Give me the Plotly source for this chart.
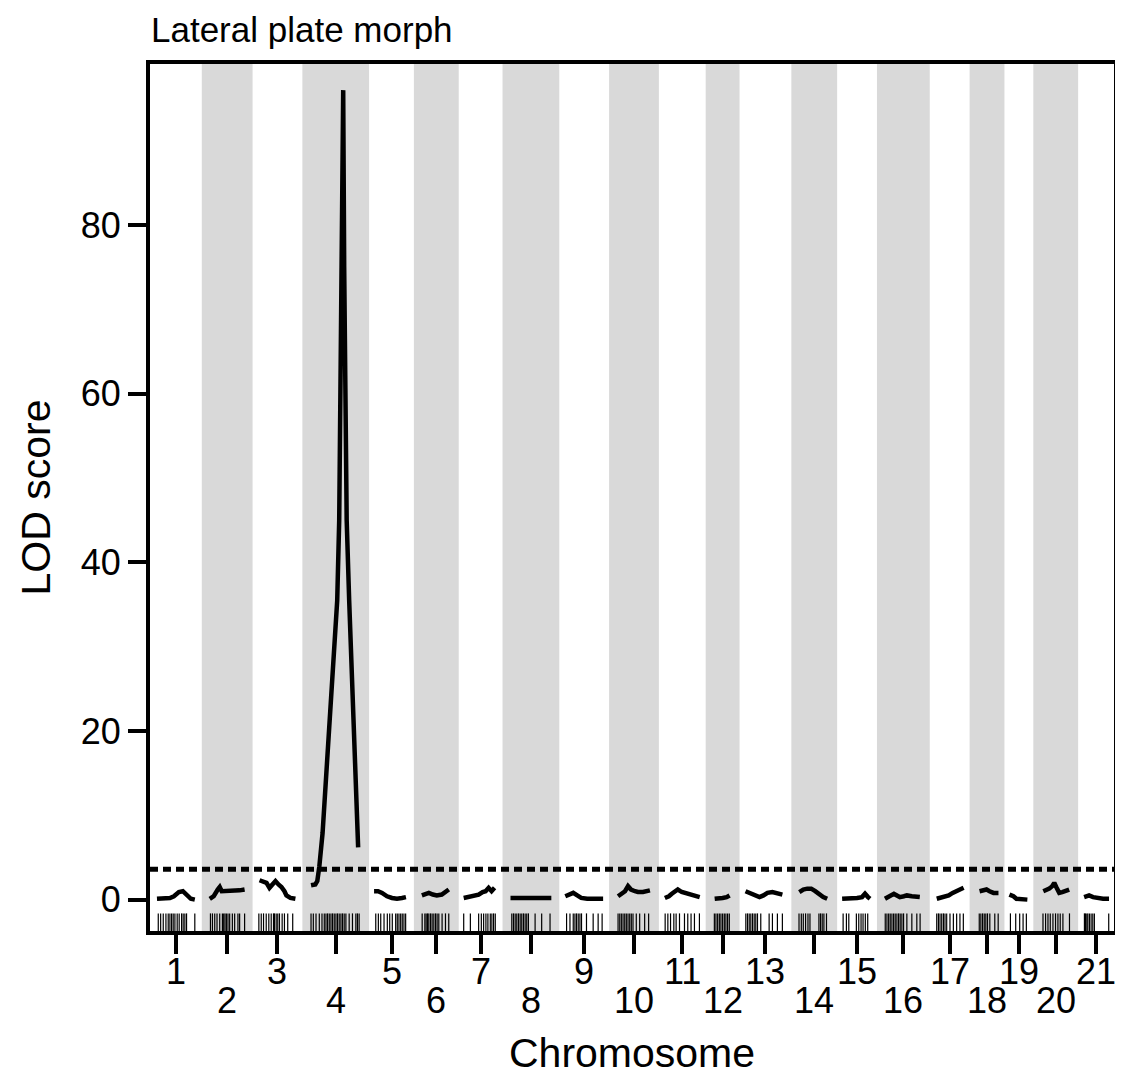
import plotly.graph_objects as go

# ---------------- data ----------------
chrom_names = [str(i) for i in range(1, 22)]
chrom_lengths = [52, 51, 50, 67, 45, 45, 44, 57, 50, 50, 47, 34, 52, 46, 40, 53, 40, 35, 29, 45, 36]

# LOD profiles: (position within chromosome, LOD)
lod_pos = {
    "1": [7, 12, 20, 24, 29, 33, 37, 41, 45],
    "2": [8, 12, 16, 18, 20, 25, 32, 38, 43],
    "3": [7, 11, 14, 17, 20, 23, 26, 29, 32, 34, 38, 43],
    "4": [8.7, 13, 15, 17, 20.3, 23.7, 27, 30.3, 33, 35, 37, 38.5, 40, 41, 42, 43, 44.5, 47, 50.3, 53.7, 56],
    "5": [5, 9, 13, 18, 23, 28, 33, 37],
    "6": [8, 12, 15, 19, 23, 28, 32, 35],
    "7": [5, 10, 15, 20, 24, 27, 30, 33, 36],
    "8": [8, 14, 20, 26, 32, 38, 44, 49],
    "9": [6, 10, 14, 18, 22, 28, 35, 44],
    "10": [9, 13, 16, 19, 22, 26, 29, 34, 38, 41],
    "11": [6, 10, 13, 17, 19, 23, 26, 30, 35, 41],
    "12": [9, 13, 17, 21, 24],
    "13": [6, 10, 13, 16, 20, 24, 28, 33, 38, 43],
    "14": [8, 12, 16, 20, 24, 28, 32, 36],
    "15": [5, 10, 15, 20, 25, 28, 31, 33],
    "16": [8, 12, 17, 20, 23, 27, 30, 35, 40, 43],
    "17": [7, 11, 15, 19, 23, 27, 31, 34],
    "18": [10, 14, 17, 20, 24, 29],
    "19": [5, 9, 12, 17, 23],
    "20": [10, 13, 16, 19, 21, 23, 26, 29, 33, 36],
    "21": [6, 9, 11, 15, 18, 25, 31],
}
lod_val = {
    "1": [0.1, 0.1, 0.2, 0.4, 0.9, 1.0, 0.5, 0.1, 0.0],
    "2": [0.1, 0.4, 1.2, 1.5, 1.0, 1.0, 1.1, 1.1, 1.2],
    "3": [2.3, 2.1, 2.0, 1.4, 1.8, 2.2, 1.8, 1.5, 1.0, 0.5, 0.2, 0.1],
    "4": [1.7, 1.8, 2.2, 3.9, 7.9, 14.2, 20.0, 24.8, 30.0, 35.5, 45.0, 60.0, 80.0, 96.0, 75.0, 56.0, 45.0, 35.5, 24.8, 14.2, 6.2],
    "5": [1.0, 1.0, 0.8, 0.4, 0.2, 0.1, 0.2, 0.3],
    "6": [0.5, 0.7, 0.8, 0.6, 0.5, 0.6, 0.9, 1.2],
    "7": [0.2, 0.3, 0.4, 0.6, 0.9, 1.0, 1.4, 1.0, 1.4],
    "8": [0.2, 0.2, 0.1, 0.2, 0.2, 0.2, 0.2, 0.2],
    "9": [0.4, 0.6, 0.8, 0.5, 0.2, 0.1, 0.1, 0.1],
    "10": [0.4, 0.8, 1.0, 1.6, 1.2, 1.0, 0.9, 0.9, 1.0, 1.1],
    "11": [0.2, 0.4, 0.7, 1.0, 1.2, 0.9, 0.8, 0.6, 0.5, 0.3],
    "12": [0.1, 0.1, 0.2, 0.3, 0.5],
    "13": [1.0, 0.8, 0.6, 0.4, 0.3, 0.5, 0.8, 0.9, 0.8, 0.6],
    "14": [0.9, 1.2, 1.3, 1.3, 1.0, 0.6, 0.3, 0.1],
    "15": [0.1, 0.1, 0.1, 0.2, 0.3, 0.7, 0.3, 0.1],
    "16": [0.1, 0.4, 0.7, 0.5, 0.3, 0.4, 0.5, 0.4, 0.3, 0.3],
    "17": [0.1, 0.2, 0.3, 0.5, 0.8, 1.0, 1.2, 1.4],
    "18": [1.0, 1.1, 1.2, 1.0, 0.8, 0.8],
    "19": [0.6, 0.4, 0.1, 0.0, 0.0],
    "20": [1.0, 1.1, 1.3, 1.6, 2.0, 1.5, 0.8, 0.9, 1.1, 1.2],
    "21": [0.3, 0.4, 0.5, 0.3, 0.2, 0.1, 0.1],
}

# marker positions (rug)
markers = {
    "1": [8.3, 10.7, 13.3, 16, 18.3, 20, 21.7, 23.3, 25, 27.3, 29.3, 31.7, 33.3, 35, 36.7, 45],
    "2": [8.7, 10.7, 13, 15.3, 18, 20.7, 22, 23.3, 24.7, 26.3, 28, 30.7, 33, 36.3, 38, 43],
    "3": [6.3, 8.7, 11, 13.7, 16.3, 18.7, 21, 22, 23.7, 25.3, 27, 29.7, 32, 35.3, 40.3],
    "4": [8.7, 11, 13.7, 17, 19.7, 22, 23.7, 25.3, 27, 28.7, 30.3, 32, 33.7, 35.3, 37, 38.7, 40.3, 42, 43.7, 47, 50.3, 53.7, 55.3, 57],
    "5": [6.7, 9.3, 11.7, 15, 18.3, 20.7, 23.3, 26.7, 28.3, 30, 31.7, 33.3, 35, 36.7],
    "6": [8.3, 11, 12.3, 13.7, 15, 16.7, 18.3, 20, 21.7, 23.3, 25, 28.3, 31.7, 35],
    "7": [5, 11.7, 20, 22.7, 25, 27.3, 29.3, 31.7, 33.3, 35, 36.7],
    "8": [9.3, 11, 12.7, 14.3, 16, 17.7, 19.3, 21, 22.7, 24.3, 26, 32.7, 39.3, 47.7],
    "9": [7.3, 10.7, 14, 15.7, 17.3, 19, 20.7, 22.3, 27.3, 34, 39, 43],
    "10": [9, 10.7, 12.3, 14, 15.7, 17.3, 19, 20.7, 22.3, 24, 27.3, 30.7, 35.7, 39.7],
    "11": [6.3, 9, 11.7, 15, 17.3, 20.7, 25.7, 29, 32.3, 35.7, 40.7],
    "12": [8.7, 10.3, 12, 13.7, 15.3, 17, 18.7, 20.3, 22, 23.7],
    "13": [6.3, 8, 9.7, 11.3, 13, 14.7, 16.3, 18, 21.3, 29.7, 33, 38, 43],
    "14": [7.7, 10, 12, 14.3, 16.7, 18.7, 27.7, 29.3, 31, 32.7, 35.3],
    "15": [6, 9.3, 11.7, 19.3, 21.7, 24, 26, 28.3, 30.7],
    "16": [8.3, 10, 11.7, 13.3, 15, 16.7, 18.3, 20, 21.7, 23.3, 25, 26.7, 30, 35, 40, 43.3],
    "17": [7, 8.7, 10.3, 12, 13.7, 15.3, 17, 20.3, 23.7, 27, 30.3, 33.7],
    "18": [9.7, 11.3, 13, 14.7, 16.3, 18, 20.3, 25.3, 28.7],
    "19": [6, 11.3, 15.3, 18.7, 22],
    "20": [9.7, 12.3, 14.7, 17, 19.7, 22.3, 24.7, 27, 29.7, 36.3],
    "21": [6.3, 7.3, 8.7, 9.7, 11.3, 13, 14.7, 16.3, 30.7],
}

threshold = 3.6
y_ticks = [0, 20, 40, 60, 80]

title_text = "Lateral plate morph"
x_title = "Chromosome"
y_title = "LOD score"

# ---------------- build ----------------
offsets = []
acc = 0
for L in chrom_lengths:
    offsets.append(acc)
    acc += L
total = acc
mids = [o + L / 2 for o, L in zip(offsets, chrom_lengths)]

FONT = "Liberation Sans, Arial, sans-serif"
Y_MIN, Y_MAX = -3.72, 99.1
RUG_TOP = -1.63

fig = go.Figure()

# alternating grey bands
shapes = []
for i, (o, L) in enumerate(zip(offsets, chrom_lengths)):
    if i % 2 == 1:
        shapes.append(dict(type="rect", xref="x", yref="paper", x0=o, x1=o + L, y0=0, y1=1,
                           fillcolor="#d9d9d9", line=dict(width=0), layer="below"))

# LOD curves
xs, ys = [], []
for i, name in enumerate(chrom_names):
    for p, v in zip(lod_pos[name], lod_val[name]):
        xs.append(offsets[i] + p)
        ys.append(v)
    xs.append(None)
    ys.append(None)
fig.add_trace(go.Scatter(x=xs, y=ys, mode="lines", line=dict(color="black", width=4.5),
                         hoverinfo="skip", showlegend=False))

# rug
rx, ry = [], []
for i, name in enumerate(chrom_names):
    for p in markers[name]:
        rx += [offsets[i] + p, offsets[i] + p, None]
        ry += [Y_MIN, RUG_TOP, None]
fig.add_trace(go.Scatter(x=rx, y=ry, mode="lines", line=dict(color="black", width=1.2),
                         hoverinfo="skip", showlegend=False))

# threshold
fig.add_trace(go.Scatter(x=[0, total], y=[threshold, threshold], mode="lines",
                         line=dict(color="black", width=5, dash="8px,5px"),
                         hoverinfo="skip", showlegend=False))

annotations = []
for i, name in enumerate(chrom_names):
    annotations.append(dict(x=mids[i], xref="x", y=0, yref="paper", text=name, showarrow=False,
                            xanchor="center", yanchor="middle",
                            yshift=-40 if i % 2 == 0 else -69,
                            font=dict(family=FONT, size=36, color="black")))
annotations.append(dict(x=0.5, xref="paper", y=0, yref="paper", text=x_title, showarrow=False,
                        xanchor="center", yanchor="middle", yshift=-122,
                        font=dict(family=FONT, size=41, color="black")))
annotations.append(dict(x=0, xref="paper", y=0.5, yref="paper", text=y_title, showarrow=False,
                        xanchor="center", yanchor="middle", xshift=-115, textangle=-90,
                        font=dict(family=FONT, size=41, color="black")))
annotations.append(dict(x=0, xref="paper", y=1, yref="paper", text=title_text, showarrow=False,
                        xanchor="left", yanchor="bottom", yshift=14, borderpad=0,
                        font=dict(family=FONT, size=35, color="black")))

# page body has an 8px margin: shrink the figure so the plot area lands where the reference has it
fig.update_layout(
    width=1115, height=1070,
    margin=dict(l=142, r=5, t=56, b=147),
    plot_bgcolor="white", paper_bgcolor="white",
    shapes=shapes, annotations=annotations,
    xaxis=dict(range=[0, total], tickvals=mids, ticktext=[""] * len(mids),
               ticks="outside", ticklen=19, tickwidth=4, tickcolor="black",
               showline=True, linecolor="black", linewidth=4, mirror=True,
               showgrid=False, zeroline=False),
    yaxis=dict(range=[Y_MIN, Y_MAX], tickvals=y_ticks,
               ticks="outside", ticklen=18, tickwidth=4, tickcolor="black",
               tickfont=dict(family=FONT, size=36, color="black"),
               showline=True, linecolor="black", linewidth=4, mirror=True,
               showgrid=False, zeroline=False),
)

fig.write_html("out.html")
